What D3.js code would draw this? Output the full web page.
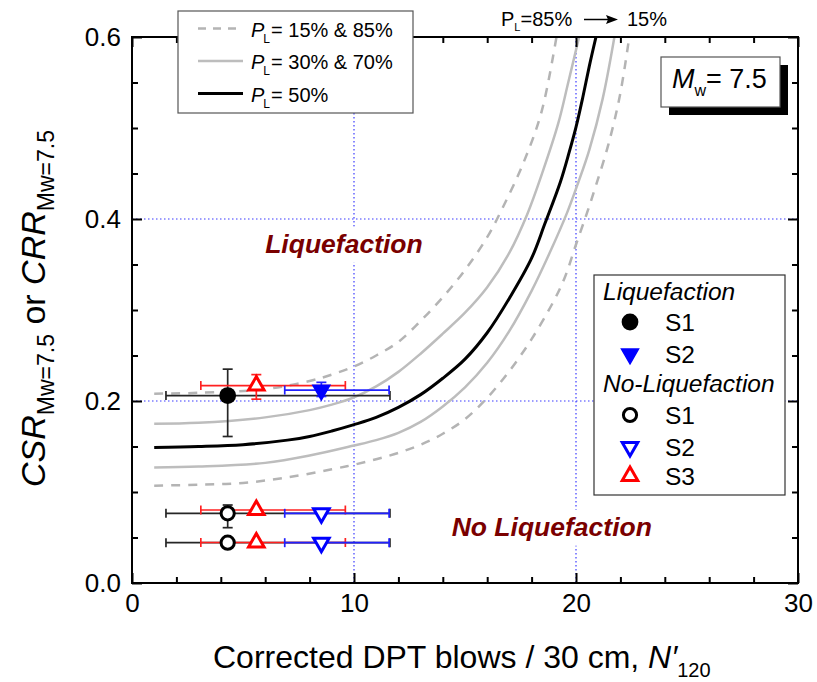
<!DOCTYPE html>
<html><head><meta charset="utf-8">
<script src="https://cdn.jsdelivr.net/npm/d3@7"></script>
<style>
body{margin:0;background:#fff}
svg{display:block}
text{font-family:"Liberation Sans",Arial,Helvetica,sans-serif;fill:#000}
</style>
</head><body>
<svg id="chart" width="817" height="682"></svg>
<script>
// ---------- data ----------
const xMajorTicks = [0, 10, 20, 30];
const xMinorTicks = [2, 4, 6, 8, 12, 14, 16, 18, 22, 24, 26, 28];
const yMajorTicks = [0.0, 0.2, 0.4, 0.6];
const yMinorTicks = [0.05, 0.1, 0.15, 0.25, 0.3, 0.35, 0.45, 0.5, 0.55];
const gridX = [10, 20];
const gridY = [0.2, 0.4];

// probabilistic boundary curves [N'120, CRR]
const curvePL15 = [[1,0.107],[3,0.108],[5,0.110],[7,0.116],[9,0.125],[10,0.130],[11,0.136],[12,0.143],[13,0.152],[14,0.164],[15,0.180],[16,0.2035],[17,0.233],[18,0.268],[19,0.310],[19.5,0.336],[20.0,0.372],[20.5,0.407],[20.9,0.437],[21.46,0.482],[21.98,0.536],[22.4,0.6]];
const curvePL30 = [[1,0.127],[3,0.128],[6,0.132],[8,0.140],[10,0.151],[11,0.157],[12,0.165],[13,0.177],[14,0.194],[15,0.215],[16,0.242],[17,0.277],[18,0.321],[18.8,0.362],[19.6,0.407],[20.1,0.440],[20.6,0.476],[21.2,0.532],[21.73,0.6]];
const curvePL50 = [[1,0.149],[3,0.150],[5,0.152],[7,0.157],[8,0.161],[9,0.167],[10,0.174],[11,0.182],[12,0.193],[13,0.207],[14,0.225],[15,0.246],[16,0.275],[17,0.313],[18,0.357],[18.6,0.395],[19.3,0.441],[19.7,0.474],[20.0,0.501],[20.3,0.533],[20.6,0.568],[20.9,0.600]];
const curvePL70 = [[1,0.175],[3,0.176],[6,0.182],[8,0.190],[9,0.196],[10,0.204],[11,0.216],[12,0.232],[13,0.252],[14,0.274],[15,0.297],[16,0.325],[17,0.363],[17.8,0.405],[18.5,0.452],[19.2,0.505],[19.65,0.550],[20.14,0.6]];
const curvePL85 = [[1,0.208],[3,0.209],[6,0.213],[8,0.222],[9,0.229],[10,0.238],[11,0.250],[12,0.265],[13,0.288],[14,0.314],[15,0.344],[16,0.380],[16.73,0.414],[17.62,0.461],[18.45,0.518],[19.12,0.6]];

// field data: value, x-error range, y-error range
const liqS1_N = [4.31],            liqS1_CSR = [0.206];
const liqS1_Nlo = [1.53],          liqS1_Nhi = [11.62];
const liqS1_CSRlo = [0.161],       liqS1_CSRhi = [0.235];

const liqS2_N = [8.53],            liqS2_CSR = [0.212];
const liqS2_Nlo = [6.88],          liqS2_Nhi = [11.58];
const liqS2_CSRlo = [0.205],       liqS2_CSRhi = [0.2205];

const noLiqS1_N = [4.31, 4.31],    noLiqS1_CSR = [0.0766, 0.0443];
const noLiqS1_Nlo = [1.53, 1.53],  noLiqS1_Nhi = [11.62, 11.62];
const noLiqS1_CSRlo = [0.0608, 0.0443], noLiqS1_CSRhi = [0.0857, 0.0443];

const noLiqS2_N = [8.53, 8.53],    noLiqS2_CSR = [0.0766, 0.0443];
const noLiqS2_Nlo = [6.88, 6.88],  noLiqS2_Nhi = [11.58, 11.58];
const noLiqS2_CSRlo = [0.0766, 0.0443], noLiqS2_CSRhi = [0.0766, 0.0443];

const noLiqS3_N = [5.6, 5.6, 5.6],       noLiqS3_CSR = [0.217, 0.0802, 0.0445];
const noLiqS3_Nlo = [3.1, 3.1, 3.1],     noLiqS3_Nhi = [9.61, 9.61, 9.61];
const noLiqS3_CSRlo = [0.202, 0.0802, 0.0445], noLiqS3_CSRhi = [0.229, 0.0802, 0.0445];

// ---------- layout ----------
const svg = d3.select('#chart');
const L = 132, R = 798, T = 37, B = 583;
const x = d3.scaleLinear().domain([0, 30]).range([L, R]);
const y = d3.scaleLinear().domain([0, 0.6]).range([B, T]);

svg.append('defs').append('clipPath').attr('id','plotclip')
  .append('rect').attr('x',L).attr('y',T).attr('width',R-L).attr('height',B-T);

// grid (blue dotted)
const gridG = svg.append('g');
gridX.forEach(v => gridG.append('line').attr('x1',x(v)).attr('x2',x(v)).attr('y1',T).attr('y2',B)
  .attr('stroke','#3b3bff').attr('stroke-width',1.2).attr('stroke-dasharray','1.5,2.5'));
gridY.forEach(v => gridG.append('line').attr('x1',L).attr('x2',R).attr('y1',y(v)).attr('y2',y(v))
  .attr('stroke','#3b3bff').attr('stroke-width',1.2).attr('stroke-dasharray','1.5,2.5'));

// region labels with white backing
function regionLabel(txt, xv, yv) {
  const g = svg.append('g');
  const t = g.append('text').attr('x', x(xv)).attr('y', y(yv)).text(txt)
    .attr('font-size', 26.5).attr('font-weight','bold').attr('font-style','italic')
    .style('fill','#7a0000');
  const bb = t.node().getBBox();
  g.insert('rect','text').attr('x',bb.x-6).attr('y',bb.y-2).attr('width',bb.width+12).attr('height',bb.height+6).attr('fill','#fff');
}
regionLabel('Liquefaction', 6.0, 0.363);
regionLabel('No Liquefaction', 14.4, 0.052);

// curves
const line = d3.line().x(d => x(d[0])).y(d => y(d[1])).curve(d3.curveCatmullRom.alpha(0.5));
const cg = svg.append('g').attr('clip-path','url(#plotclip)');
const curveStyles = [
  {data: curvePL15, stroke:'#b4b4b4', w:2.5, dash:'9,8'},
  {data: curvePL85, stroke:'#b4b4b4', w:2.5, dash:'9,8'},
  {data: curvePL30, stroke:'#bdbdbd', w:2.5, dash:null},
  {data: curvePL70, stroke:'#bdbdbd', w:2.5, dash:null},
  {data: curvePL50, stroke:'#000', w:3, dash:null}
];
curveStyles.forEach(c => cg.append('path').datum(c.data).attr('d', line)
  .attr('fill','none').attr('stroke',c.stroke).attr('stroke-width',c.w)
  .attr('stroke-dasharray', c.dash));

// axes
function styleAxis(g){ g.select('.domain').remove(); g.selectAll('line').attr('stroke','#000').attr('stroke-width',2); }
svg.append('g').attr('transform',`translate(0,${B})`)
  .call(d3.axisBottom(x).tickValues(xMajorTicks).tickSize(-10).tickPadding(11).tickFormat(d3.format('d')))
  .call(styleAxis).call(g=>g.selectAll('text').attr('font-size',26));
svg.append('g').attr('transform',`translate(0,${B})`)
  .call(d3.axisBottom(x).tickValues(xMinorTicks).tickSize(-6).tickFormat('')).call(styleAxis);
svg.append('g').attr('transform',`translate(0,${T})`)
  .call(d3.axisTop(x).tickValues(xMajorTicks).tickSize(-10).tickFormat('')).call(styleAxis);
svg.append('g').attr('transform',`translate(0,${T})`)
  .call(d3.axisTop(x).tickValues(xMinorTicks).tickSize(-6).tickFormat('')).call(styleAxis);
svg.append('g').attr('transform',`translate(${L},0)`)
  .call(d3.axisLeft(y).tickValues(yMajorTicks).tickSize(-10).tickPadding(11).tickFormat(d3.format('.1f')))
  .call(styleAxis).call(g=>g.selectAll('text').attr('font-size',26));
svg.append('g').attr('transform',`translate(${L},0)`)
  .call(d3.axisLeft(y).tickValues(yMinorTicks).tickSize(-6).tickFormat('')).call(styleAxis);
svg.append('g').attr('transform',`translate(${R},0)`)
  .call(d3.axisRight(y).tickValues(yMajorTicks).tickSize(-10).tickFormat('')).call(styleAxis);
svg.append('g').attr('transform',`translate(${R},0)`)
  .call(d3.axisRight(y).tickValues(yMinorTicks).tickSize(-6).tickFormat('')).call(styleAxis);
svg.append('rect').attr('x',L).attr('y',T).attr('width',R-L).attr('height',B-T)
  .attr('fill','none').attr('stroke','#000').attr('stroke-width',2);

// error bars
function errorBars(N, C, Nlo, Nhi, Clo, Chi, color) {
  const g = svg.append('g').attr('stroke', color).attr('stroke-width', 1.7).attr('fill','none');
  N.forEach((n, i) => {
    const yy = y(C[i]);
    g.append('line').attr('x1', x(Nlo[i])).attr('x2', x(Nhi[i])).attr('y1', yy).attr('y2', yy);
    [Nlo[i], Nhi[i]].forEach(v => g.append('line').attr('x1', x(v)).attr('x2', x(v)).attr('y1', yy-4.5).attr('y2', yy+4.5));
    if (Chi[i] - Clo[i] > 0.0005) {
      g.append('line').attr('x1', x(n)).attr('x2', x(n)).attr('y1', y(Clo[i])).attr('y2', y(Chi[i]));
      [Clo[i], Chi[i]].forEach(v => g.append('line').attr('x1', x(n)-5).attr('x2', x(n)+5).attr('y1', y(v)).attr('y2', y(v)));
    }
  });
}
errorBars(liqS1_N, liqS1_CSR, liqS1_Nlo, liqS1_Nhi, liqS1_CSRlo, liqS1_CSRhi, '#262626');
errorBars(noLiqS1_N, noLiqS1_CSR, noLiqS1_Nlo, noLiqS1_Nhi, noLiqS1_CSRlo, noLiqS1_CSRhi, '#262626');
errorBars(noLiqS3_N, noLiqS3_CSR, noLiqS3_Nlo, noLiqS3_Nhi, noLiqS3_CSRlo, noLiqS3_CSRhi, '#ff2020');
errorBars(liqS2_N, liqS2_CSR, liqS2_Nlo, liqS2_Nhi, liqS2_CSRlo, liqS2_CSRhi, '#2020ff');
errorBars(noLiqS2_N, noLiqS2_CSR, noLiqS2_Nlo, noLiqS2_Nhi, noLiqS2_CSRlo, noLiqS2_CSRhi, '#2020ff');

// markers
function triPath(s, up) {
  const h = s * Math.sqrt(3) / 2, a = 2*h/3, b = h/3;
  return up ? `M0,${-a}L${s/2},${b}L${-s/2},${b}Z` : `M0,${a}L${s/2},${-b}L${-s/2},${-b}Z`;
}
function marker(g, type, cx, cy) {
  const m = g.append('g').attr('transform', `translate(${cx},${cy})`);
  if (type === 'liqS1') m.append('circle').attr('r', 8.4).attr('fill', '#000');
  if (type === 'liqS2') m.append('path').attr('d', triPath(17, false)).attr('fill', '#0000ff').attr('stroke','#0000ff').attr('stroke-width',1.5);
  if (type === 'noS1') m.append('circle').attr('r', 6.6).attr('fill', '#fff').attr('stroke', '#000').attr('stroke-width', 3);
  if (type === 'noS2') m.append('path').attr('d', triPath(15.5, false)).attr('fill', '#fff').attr('stroke', '#0000ff').attr('stroke-width', 3);
  if (type === 'noS3') m.append('path').attr('d', triPath(15.5, true)).attr('fill', '#fff').attr('stroke', '#ff0000').attr('stroke-width', 3);
}
const mg = svg.append('g');
noLiqS1_N.forEach((n,i) => marker(mg, 'noS1', x(n), y(noLiqS1_CSR[i])));
noLiqS3_N.forEach((n,i) => marker(mg, 'noS3', x(n), y(noLiqS3_CSR[i])));
noLiqS2_N.forEach((n,i) => marker(mg, 'noS2', x(n), y(noLiqS2_CSR[i])));
liqS1_N.forEach((n,i) => marker(mg, 'liqS1', x(n), y(liqS1_CSR[i])));
liqS2_N.forEach((n,i) => marker(mg, 'liqS2', x(n), y(liqS2_CSR[i])));

// top-left legend (curves)
const lg = svg.append('g');
lg.append('rect').attr('x',178).attr('y',11).attr('width',235).attr('height',102)
  .attr('fill','#fff').attr('stroke','#555').attr('stroke-width',1.2);
const curveLegend = [
  {label:'= 15% & 85%', stroke:'#b4b4b4', w:2.5, dash:'8,7'},
  {label:'= 30% & 70%', stroke:'#bdbdbd', w:2.5, dash:null},
  {label:'= 50%',       stroke:'#000',    w:3,   dash:null}
];
curveLegend.forEach((d,i) => {
  const yy = 28.5 + i*32.5;
  lg.append('line').attr('x1',198).attr('x2',243).attr('y1',yy).attr('y2',yy)
    .attr('stroke',d.stroke).attr('stroke-width',d.w).attr('stroke-dasharray',d.dash);
  const t = lg.append('text').attr('x',251).attr('y',yy+8).attr('font-size',20);
  t.append('tspan').attr('font-style','italic').text('P');
  t.append('tspan').attr('font-size',12).attr('dy',6).attr('dx',-1).text('L');
  t.append('tspan').attr('dy',-6).attr('dx',1).text(d.label);
});

// top annotation
const ta = svg.append('text').attr('x',501).attr('y',26).attr('font-size',20);
ta.append('tspan').text('P');
ta.append('tspan').attr('font-size',11).attr('dy',5).text('L');
ta.append('tspan').attr('dy',-5).text('=85%');
svg.append('line').attr('x1',584).attr('x2',608).attr('y1',19.5).attr('y2',19.5).attr('stroke','#000').attr('stroke-width',1.5);
svg.append('path').attr('d','M618,19.5L606,15L608,19.5L606,24Z').attr('fill','#000');
svg.append('text').attr('x',627).attr('y',26).attr('font-size',20).text('15%');

// Mw box
svg.append('rect').attr('x',669).attr('y',65).attr('width',119).attr('height',50).attr('fill','#000');
svg.append('rect').attr('x',661).attr('y',57).attr('width',119).attr('height',50).attr('fill','#fff').attr('stroke','#555').attr('stroke-width',1.2);
const mt = svg.append('text').attr('x',672).attr('y',88).attr('font-size',27);
mt.append('tspan').attr('font-style','italic').text('M');
mt.append('tspan').attr('font-size',16).attr('dy',8).text('w');
mt.append('tspan').attr('dy',-8).text('= 7.5');

// right legend (data)
const rg = svg.append('g');
rg.append('rect').attr('x',594).attr('y',275).attr('width',191).attr('height',220)
  .attr('fill','#fff').attr('stroke','#333').attr('stroke-width',1.2);
const legendRows = [
  {kind:'head', label:'Liquefaction', y:300},
  {kind:'liqS1', label:'S1', y:322},
  {kind:'liqS2', label:'S2', y:354},
  {kind:'head', label:'No-Liquefaction', y:392},
  {kind:'noS1', label:'S1', y:415},
  {kind:'noS2', label:'S2', y:447},
  {kind:'noS3', label:'S3', y:476}
];
legendRows.forEach(r => {
  if (r.kind === 'head') {
    rg.append('text').attr('x',603).attr('y',r.y).attr('font-size',24.5).attr('font-style','italic').text(r.label);
  } else {
    marker(rg, r.kind, 630, r.y);
    rg.append('text').attr('x',665).attr('y',r.y+9).attr('font-size',24.5).text(r.label);
  }
});

// axis titles
const xt = svg.append('text').attr('x',213).attr('y',668).attr('font-size',32);
xt.append('tspan').text('Corrected DPT blows / 30 cm, ');
xt.append('tspan').attr('font-style','italic').text('N\u2032');
xt.append('tspan').attr('font-size',20).attr('dy',9).text('120');

const yt = svg.append('text').attr('transform','translate(45,487) rotate(-90)').attr('font-size',34);
yt.append('tspan').attr('font-style','italic').text('CSR');
yt.append('tspan').attr('font-size',23).attr('dy',9).text('Mw=7.5');
yt.append('tspan').attr('dy',-9).text(' or ');
yt.append('tspan').attr('font-style','italic').text('CRR');
yt.append('tspan').attr('font-size',23).attr('dy',9).text('Mw=7.5');
</script>
</body></html>
